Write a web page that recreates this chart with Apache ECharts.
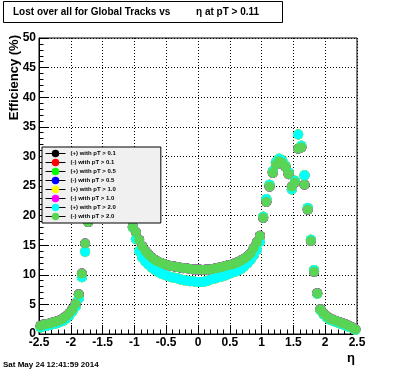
<!DOCTYPE html>
<html>
<head>
<meta charset="utf-8">
<script src="https://cdn.jsdelivr.net/npm/echarts@6/dist/echarts.min.js"></script>
<style>html,body{margin:0;padding:0;background:#fff}#c{width:396px;height:372px}</style>
</head>
<body>
<div id="c"></div>
<script>
// eta bin centres
var etaBins = [-2.475,-2.425,-2.375,-2.325,-2.275,-2.225,-2.175,-2.125,-2.075,-2.025,
-1.975,-1.925,-1.875,-1.825,-1.775,-1.725,-1.675,-1.625,-1.575,-1.525,
-1.475,-1.425,-1.375,-1.325,-1.275,-1.225,-1.175,-1.125,-1.075,-1.025,
-0.975,-0.925,-0.875,-0.825,-0.775,-0.725,-0.675,-0.625,-0.575,-0.525,
-0.475,-0.425,-0.375,-0.325,-0.275,-0.225,-0.175,-0.125,-0.075,-0.025,
0.025,0.075,0.125,0.175,0.225,0.275,0.325,0.375,0.425,0.475,
0.525,0.575,0.625,0.675,0.725,0.775,0.825,0.875,0.925,0.975,
1.025,1.075,1.125,1.175,1.225,1.275,1.325,1.375,1.425,1.475,
1.525,1.575,1.625,1.675,1.725,1.775,1.825,1.875,1.925,1.975,
2.025,2.075,2.125,2.175,2.225,2.275,2.325,2.375,2.425,2.475];

// (+) charge efficiency (%)
var posVals = [1.1,1.3,1.4,1.5,1.7,1.8,2.0,2.2,2.6,3.1,
3.8,4.6,6.0,9.6,13.9,19.2,21.5,24.0,25.5,25.0,
24.5,25.5,26.5,27.0,26.5,25.5,24.0,22.0,20.0,18.0,
16.0,14.0,12.9,12.2,11.7,11.2,10.8,10.5,10.2,10.0,
9.8,9.6,9.5,9.4,9.2,9.1,9.0,8.9,8.9,8.8,
8.8,8.8,8.9,9.1,9.3,9.4,9.6,9.7,9.9,10.1,
10.3,10.5,10.7,11.0,11.4,11.9,12.5,13.3,14.2,15.6,
19.8,22.8,25.2,27.5,29.0,29.6,29.3,28.4,27.3,24.4,
25.9,33.7,31.8,26.8,21.3,15.9,10.8,6.8,4.0,3.3,
2.8,2.4,2.2,2.0,1.8,1.6,1.4,1.2,1.0,0.7];

// (-) charge efficiency (%)
var negVals = [1.4,1.6,1.7,1.8,2.0,2.1,2.3,2.6,3.0,3.5,
4.2,5.1,6.7,10.2,15.3,18.9,22.5,25.0,26.5,25.5,
25.0,26.0,27.0,27.5,27.0,26.0,24.5,22.5,20.5,18.1,
17.2,15.9,14.8,14.0,13.4,12.9,12.5,12.2,12.0,11.8,
11.6,11.5,11.4,11.3,11.2,11.1,11.1,11.0,10.9,10.9,
10.9,10.8,10.9,10.9,11.0,11.1,11.2,11.3,11.5,11.6,
11.7,11.9,12.1,12.4,12.7,13.1,13.6,14.5,15.5,16.6,
19.6,22.3,24.9,27.2,28.6,29.2,28.9,28.2,27.0,24.9,
25.6,31.3,31.5,25.2,21.0,15.7,10.5,6.9,4.2,3.5,
3.0,2.6,2.4,2.2,2.0,1.8,1.6,1.4,1.1,0.8];

var seriesNames = ['(+) with pT > 0.1','(-) with pT > 0.1','(+) with pT > 0.5','(-) with pT > 0.5',
                   '(+) with pT > 1.0','(-) with pT > 1.0','(+) with pT > 2.0','(-) with pT > 2.0'];
var seriesColors = ['#000000','#ff0000','#00ff00','#0000ff','#ffff00','#ff00ff','#00ffff','#59d454'];
var seriesCharge = ['+','-','+','-','+','-','+','-'];

var xTicks = {min:-2.5, max:2.5, interval:0.5};
var yTicks = {min:0, max:50, interval:5};

function pairs(vals){ return etaBins.map(function(e,i){ return [e, vals[i]]; }); }

var FONT = '"Liberation Sans", Arial, Helvetica, sans-serif';
var series = seriesNames.map(function(n,i){
  return {
    name:n, type:'line', data:pairs(seriesCharge[i]==='+'?posVals:negVals),
    symbol:'circle', symbolSize:10, showSymbol:true, showAllSymbol:true,
    lineStyle:{width:0, opacity:0}, itemStyle:{color:seriesColors[i]},
    color:seriesColors[i], silent:true, z:2
  };
});

var chart = echarts.init(document.getElementById('c'), null, {renderer:'canvas'});
chart.setOption({
  animation:false,
  backgroundColor:'#ffffff',
  grid:{left:39, right:39, top:38, bottom:38, show:true, borderColor:'#000', borderWidth:1, backgroundColor:'#fff'},
  xAxis:{type:'value', min:xTicks.min, max:xTicks.max, interval:xTicks.interval,
    axisLine:{show:true, onZero:false, lineStyle:{color:'#000', width:1}},
    axisTick:{show:true, inside:true, length:9, lineStyle:{color:'#000'}},
    minorTick:{show:true, splitNumber:5, length:4.5, lineStyle:{color:'#000'}},
    splitLine:{show:true, lineStyle:{color:'#000', width:1, type:[1,2]}},
    axisLabel:{color:'#000', fontSize:12, fontWeight:'bold', fontFamily:FONT, margin:3}
  },
  yAxis:{type:'value', min:yTicks.min, max:yTicks.max, interval:yTicks.interval,
    axisLine:{show:true, onZero:false, lineStyle:{color:'#000', width:1}},
    axisTick:{show:true, inside:true, length:9, lineStyle:{color:'#000'}},
    minorTick:{show:true, splitNumber:5, length:4.5, lineStyle:{color:'#000'}},
    splitLine:{show:true, lineStyle:{color:'#000', width:1, type:[1,2]}},
    axisLabel:{color:'#000', fontSize:12, fontWeight:'bold', fontFamily:FONT, margin:3}
  },
  legend:{orient:'vertical', left:42, top:147, padding:[2,45,2,3], itemGap:0,
    itemWidth:20, itemHeight:9.3, backgroundColor:'#f0f0f0', borderColor:'#000', borderWidth:1,
    selectedMode:false, z:10,
    textStyle:{fontSize:6, fontWeight:'bold', fontFamily:FONT, color:'#000', lineHeight:9},
    lineStyle:{color:'#000', width:1, opacity:1, type:'solid'},
    data:seriesNames
  },
  graphic:[
    {type:'rect', shape:{x:3.5, y:1.5, width:279, height:21}, style:{fill:'#fff', stroke:'#000', lineWidth:1}, z:10},
    {type:'text', x:13, y:12.5, style:{text:'Lost over all for Global Tracks vs', font:'bold 10px '+FONT, fill:'#000', align:'left', verticalAlign:'middle'}, z:11},
    {type:'text', x:196, y:12.5, style:{text:'\u03b7 at pT > 0.11', font:'bold 10px '+FONT, fill:'#000', align:'left', verticalAlign:'middle'}, z:11},
    {type:'text', x:14, y:35, rotation:Math.PI/2, style:{text:'Efficiency (%)', font:'bold 13px '+FONT, fill:'#000', align:'right', verticalAlign:'middle'}, z:11},
    {type:'text', x:351, y:358, style:{text:'\u03b7', font:'bold 13px '+FONT, fill:'#000', align:'center', verticalAlign:'middle'}, z:11},
    {type:'text', x:3, y:365, style:{text:'Sat May 24 12:41:59 2014', font:'bold 8px '+FONT, fill:'#000', align:'left', verticalAlign:'middle'}, z:11}
  ],
  series:series
});
</script>
</body>
</html>
